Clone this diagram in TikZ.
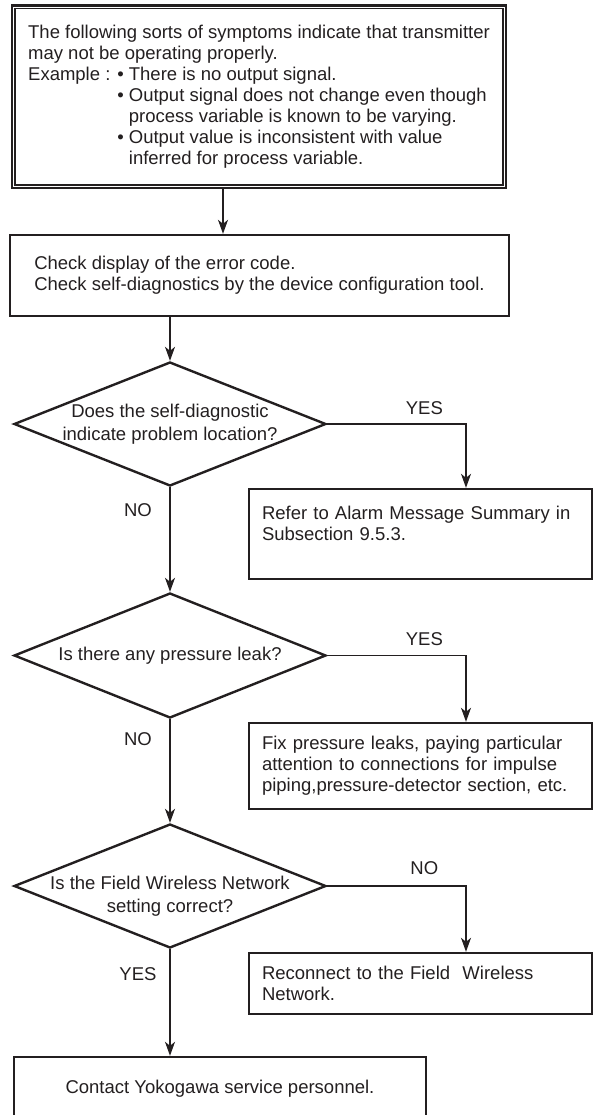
\documentclass[tikz,border=0pt]{standalone}
\usepackage{fontspec}
\setmainfont{Liberation Sans}
\usetikzlibrary{arrows.meta,shapes.geometric}
\definecolor{ink}{HTML}{231F20}
\tikzset{
  stepbox/.style={draw=ink,line width=2.4pt,inner sep=0pt,align=left},
  actbox/.style={stepbox,text width=317pt,minimum width=343pt},
  decision/.style={diamond,draw=ink,line width=2.4pt,inner sep=0pt,
    minimum width=312pt,minimum height=124pt},
  qtext/.style={align=center,font=\fontsize{18.5}{23}\selectfont},
  flow/.style={->,draw=ink,line width=1.1pt}
}

\begin{document}
\begin{tikzpicture}[x=1pt,y=-1pt,font=\fontsize{18.5}{21}\selectfont,text=ink,
 >={Stealth[length=14pt,width=10pt,inset=4pt]}]
\useasboundingbox (0,0) rectangle (593,1115);
\clip (0,0) rectangle (593,1115);
% symptoms, framed twice
\node[stepbox,line width=2.8pt,minimum width=494pt,minimum height=182.5pt]
 (symptoms) at (259,96.75) {The following sorts of symptoms indicate that transmitter\\
 may not be operating properly.\\
 Example : \textbullet\ There is no output signal.\\
 \phantom{Example : }\textbullet\ Output signal does not change even though\\
 \phantom{Example : \textbullet\ }process variable is known to be varying.\\
 \phantom{Example : }\textbullet\ Output value is inconsistent with value\\
 \phantom{Example : \textbullet\ }inferred for process variable.};
\draw[ink,line width=1.7pt] ([shift={(4.5pt,-4.5pt)}]symptoms.north west)
 rectangle ([shift={(-4.5pt,4.5pt)}]symptoms.south east);
\node[stepbox,minimum width=499pt,minimum height=81pt] (check) at (259.5,275.5)
 {Check display of the error code.\\
 Check self-diagnostics by the device configuration tool.};
\node[decision,label={[qtext]center:Does the self-diagnostic\\indicate problem location?}]
 (selfdiag) at (170,424) {};
\node[actbox,minimum height=90pt] (alarm) at (420.5,534)
 {Refer to Alarm Message Summary in\\Subsection 9.5.3.\\ \mbox{}};
\node[decision,minimum height=125pt,label={[qtext]center:Is there any pressure leak?}]
 (leak) at (170,655.5) {};
\node[actbox,minimum height=86pt] (fixleak) at (420.5,766)
 {Fix pressure leaks, paying particular\\
 attention to connections for impulse\\
 piping,pressure-detector section, etc.};
\node[decision,label={[qtext,yshift=-10pt]center:Is the Field Wireless Network\\setting correct?}]
 (network) at (170,886) {};
\node[actbox,minimum height=61pt] (reconnect) at (420.5,983.5)
 {Reconnect to the Field\ \ Wireless\\Network.};
\node[stepbox,minimum width=412pt,minimum height=64pt] (service) at (220,1089)
 {Contact Yokogawa service personnel.};

\coordinate (first) at ([xshift=-36pt]symptoms.south);
\coordinate (toalarm) at ([xshift=45.5pt]alarm.north);
\coordinate (tofix) at ([xshift=45.5pt]fixleak.north);
\coordinate (toreconnect) at ([xshift=45.5pt]reconnect.north);

\draw[flow] (first) -- (first |- check.north);
\draw[flow] (selfdiag.north |- check.south) -- (selfdiag.north);
\draw[flow] (selfdiag.east) -| (toalarm) node[pos=.35,yshift=16pt] {YES};
\draw[flow] (selfdiag.south) -- (leak.north) node[pos=.22,xshift=-32pt] {NO};
\draw[flow] (leak.east) -| (tofix) node[pos=.35,yshift=16pt] {YES};
\draw[flow] (leak.south) -- (network.north) node[pos=.19,xshift=-32pt] {NO};
\draw[flow] (network.east) -| (toreconnect) node[pos=.35,yshift=18pt] {NO};
\draw[flow] (network.south) -- (network.south |- service.north)
 node[pos=.23,xshift=-32pt] {YES};
\end{tikzpicture}
\end{document}
